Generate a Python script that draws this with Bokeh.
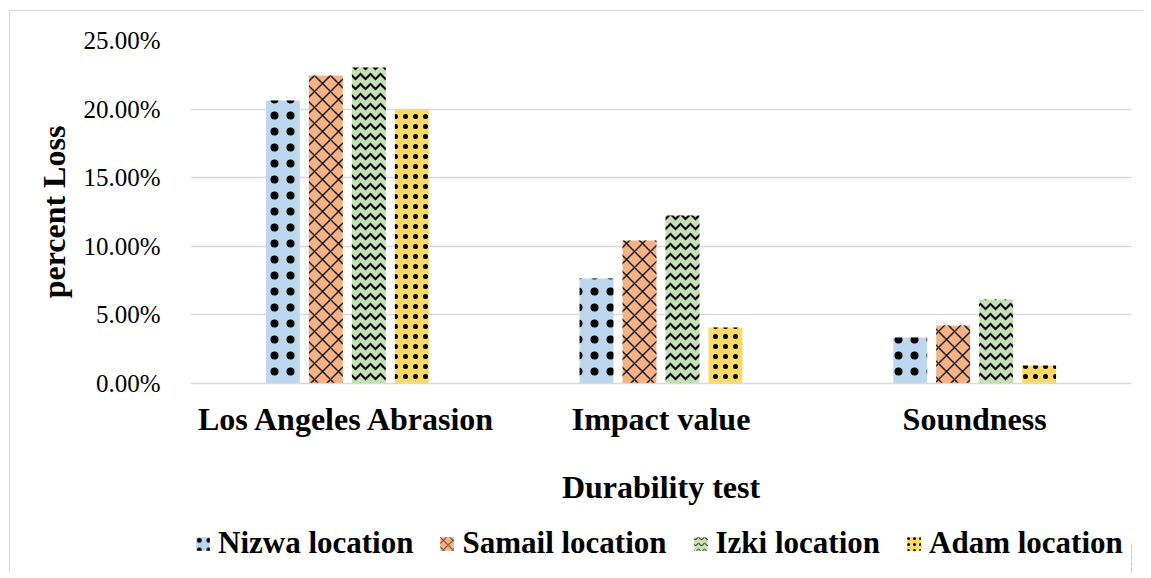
from bokeh.plotting import figure
from bokeh.layouts import column
from bokeh.models import (FactorRange, NumeralTickFormatter, Legend, LegendItem,
                          ColumnDataSource, FixedTicker)
from bokeh.transform import dodge
from bokeh.embed import file_html
from bokeh.resources import INLINE

categories = ["Los Angeles Abrasion", "Impact value", "Soundness"]
series_names = ["Nizwa location", "Samail location", "Izki location", "Adam location"]
nizwa = [0.2063, 0.0765, 0.0335]
samail = [0.2245, 0.1042, 0.0423]
izki = [0.2303, 0.1224, 0.0612]
adam = [0.1997, 0.0408, 0.0131]
y_ticks = [0.0, 0.05, 0.10, 0.15, 0.20, 0.25]

colors = ["#BDD7EE", "#F4B183", "#C5E0B4", "#FFD966"]
patterns = ["dot", "diagonal_cross", "horizontal_wave", "dot"]
hscales = [16, 16, 10, 10]
hweights = [7, 1.3, 2, 1]
offsets = [-0.2055, -0.0685, 0.0685, 0.2055]

src = ColumnDataSource(dict(cat=categories, nizwa=nizwa, samail=samail, izki=izki, adam=adam))
keys = ["nizwa", "samail", "izki", "adam"]

FONT = "Liberation Serif"

p = figure(x_range=FactorRange(*categories), y_range=(0, 0.25),
           frame_width=941, frame_height=343,
           min_border_left=180, min_border_right=12, min_border_top=29, min_border_bottom=130,
           output_backend="svg", toolbar_location=None)

for k, c, pat, hs, hw, off in zip(keys, colors, patterns, hscales, hweights, offsets):
    p.vbar(x=dodge("cat", off, range=p.x_range), top=k, width=0.108, source=src,
           fill_color=c, line_color=None, hatch_pattern=pat, hatch_color="black",
           hatch_scale=hs, hatch_weight=hw)

p.outline_line_color = None
p.yaxis.ticker = FixedTicker(ticks=y_ticks)
p.yaxis.formatter = NumeralTickFormatter(format="0.00%")
p.yaxis.axis_line_color = None
p.yaxis.major_tick_line_color = None
p.yaxis.minor_tick_line_color = None
p.yaxis.major_label_text_font = FONT
p.yaxis.major_label_text_font_size = "25px"
p.yaxis.major_label_text_color = "black"
p.yaxis.major_label_standoff = 24
p.yaxis.axis_label = "percent Loss"
p.yaxis.axis_label_text_font = FONT
p.yaxis.axis_label_text_font_size = "32px"
p.yaxis.axis_label_text_font_style = "bold"
p.yaxis.axis_label_text_color = "black"
p.yaxis.axis_label_standoff = 8

p.xaxis.axis_line_color = "#D9D9D9"
p.xaxis.axis_line_width = 1.5
p.xaxis.major_tick_line_color = None
p.xaxis.minor_tick_line_color = None
p.xaxis.major_label_text_font = FONT
p.xaxis.major_label_text_font_size = "32px"
p.xaxis.major_label_text_font_style = "bold"
p.xaxis.major_label_text_color = "black"
p.xaxis.major_label_standoff = 11
p.xaxis.axis_label = "Durability test"
p.xaxis.axis_label_text_font = FONT
p.xaxis.axis_label_text_font_size = "32px"
p.xaxis.axis_label_text_font_style = "bold"
p.xaxis.axis_label_text_color = "black"
p.xaxis.axis_label_standoff = 29

p.xgrid.grid_line_color = None
p.ygrid.grid_line_color = "#D9D9D9"
p.ygrid.grid_line_width = 1.5

# legend strip (dummy bars lie outside the visible range; only their legend swatches show)
p2 = figure(width=1133, height=60, x_range=(0, 1), y_range=(0, 1),
            min_border_left=0, min_border_right=0, min_border_top=0, min_border_bottom=0,
            output_backend="svg", toolbar_location=None,
            x_axis_location=None, y_axis_location=None)
p2.grid.visible = False
p2.outline_line_color = None
leg_renderers = []
for c, pat, hs, hw in zip(colors, patterns, hscales, hweights):
    r = p2.vbar(x=[5], top=[0.5], width=0.1, fill_color=c, line_color=None,
                hatch_pattern=pat, hatch_color="black", hatch_scale=hs * 0.6,
                hatch_weight=max(hw * 0.5, 0.8))
    leg_renderers.append(r)

legend = Legend(items=[LegendItem(label=n, renderers=[r]) for n, r in zip(series_names, leg_renderers)],
                orientation="horizontal", location=(4, 12),
                label_text_font=FONT, label_text_font_size="31px", label_text_font_style="bold",
                label_text_color="black", glyph_width=17, glyph_height=17, label_standoff=7,
                spacing=25, border_line_color=None, background_fill_alpha=0, padding=0, margin=0)
p2.add_layout(legend, "center")

layout = column(p, p2, spacing=0)
layout.styles = {"margin-left": "9px", "margin-top": "10px",
                 "border-top": "1px solid #D9D9D9", "border-left": "1px solid #D9D9D9"}

open("out.html", "w").write(file_html(layout, INLINE))
